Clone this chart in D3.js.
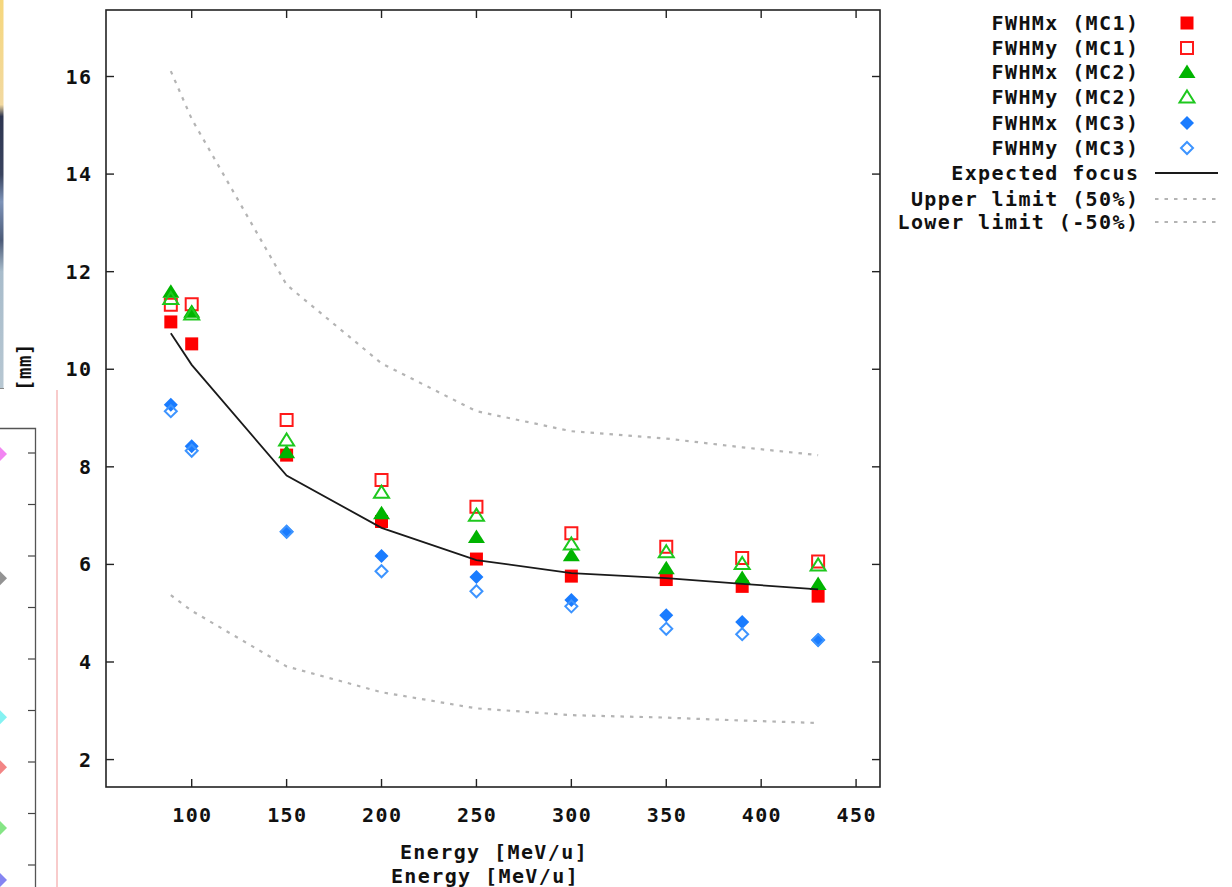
<!DOCTYPE html>
<html><head><meta charset="utf-8">
<script src="https://cdn.jsdelivr.net/npm/d3@7/dist/d3.min.js"></script>
<style>
html,body{margin:0;padding:0;background:#fff;overflow:hidden;}
text{font-family:"DejaVu Sans Mono","Liberation Mono",monospace;font-weight:bold;fill:#111;}
</style></head>
<body><svg id="c" width="1232" height="887"></svg>
<script>
// ---- data ----
const energy   = [89, 100, 150, 200, 250, 300, 350, 390, 430];
const fwhmxMC1 = [10.97, 10.52, 8.24, 6.88, 6.11, 5.76, 5.69, 5.55, 5.35];
const fwhmyMC1 = [11.32, 11.33, 8.96, 7.73, 7.18, 6.64, 6.36, 6.13, 6.06];
const fwhmxMC2 = [11.59, 11.18, 8.30, 7.05, 6.56, 6.19, 5.92, 5.72, 5.60];
const fwhmyMC2 = [11.45, 11.13, 8.55, 7.48, 7.01, 6.42, 6.26, 6.02, 5.99];
const fwhmxMC3 = [9.27, 8.42, 6.67, 6.17, 5.74, 5.27, 4.96, 4.82, 4.45];
const fwhmyMC3 = [9.14, 8.33, 6.67, 5.86, 5.45, 5.14, 4.68, 4.57, 4.45];
const expected = [10.74, 10.09, 7.82, 6.75, 6.09, 5.82, 5.72, 5.60, 5.49];
const upper    = [16.11, 15.13, 11.73, 10.12, 9.14, 8.73, 8.58, 8.40, 8.24];
const lower    = [5.37, 5.05, 3.91, 3.38, 3.05, 2.91, 2.86, 2.80, 2.75];
const xTicks = [100, 150, 200, 250, 300, 350, 400, 450];
const yTicks = [2, 4, 6, 8, 10, 12, 14, 16];
const seriesNames = ["FWHMx (MC1)", "FWHMy (MC1)", "FWHMx (MC2)", "FWHMy (MC2)", "FWHMx (MC3)", "FWHMy (MC3)"];
const lineNames = ["Expected focus", "Upper limit (50%)", "Lower limit (-50%)"];
const xTitle = "Energy [MeV/u]";
const yTitle = "[mm]";
// fragment of a neighbouring chart visible at the left edge
const fragTicks = [0, 1, 2, 3, 4, 5, 6, 7, 8];
const fragPoints = [0.02, 2.43, 5.13, 6.1, 7.28, 8.29];
const fragColors = ["#f070f0", "#808080", "#70f0f0", "#f07070", "#70e070", "#7070f0"];

const svg = d3.select("#c");
const L = 106, T = 10, R = 880, B = 787;
const x = d3.scaleLinear().domain([54.85, 462.6]).range([L, R]);
const y = d3.scaleLinear().domain([1.438, 17.363]).range([B, T]);

// ---- left-edge artefacts ----
const defs = svg.append("defs");
const gr = defs.append("linearGradient").attr("id","strip").attr("x1",0).attr("x2",0).attr("y1",0).attr("y2",1);
[["0%","#f6d77c"],["27%","#f2d9a0"],["30%","#2d3550"],["45%","#39435e"],["52%","#7d93b8"],["62%","#4c5b78"],["70%","#a8bccb"],["100%","#b7c7d2"]]
  .forEach(s=>gr.append("stop").attr("offset",s[0]).attr("stop-color",s[1]));
svg.append("rect").attr("x",0).attr("y",0).attr("width",3.5).attr("height",388).attr("fill","url(#strip)");
svg.append("line").attr("x1",0).attr("x2",4).attr("y1",388.5).attr("y2",388.5).attr("stroke","#888");

const yf = d3.scaleLinear().domain([0, 8]).range([453, 865]);
svg.append("path").attr("d","M-5,428.5H35.5V887").attr("fill","none").attr("stroke","#555").attr("stroke-width",1.3);
svg.selectAll(".ft").data(fragTicks).join("line")
  .attr("x1",28).attr("x2",35).attr("y1",d=>yf(d)).attr("y2",d=>yf(d)).attr("stroke","#444").attr("stroke-width",1.2);
svg.selectAll(".fp").data(fragPoints).join("path")
  .attr("transform",(d)=>`translate(0,${yf(d)})`)
  .attr("d","M0,-7L7,0L0,7L-7,0Z")
  .attr("fill",(d,i)=>fragColors[i]).attr("opacity",0.85);
svg.append("line").attr("x1",57).attr("x2",57).attr("y1",390).attr("y2",887).attr("stroke","#f4a8a8").attr("stroke-width",1.2);

// y title (partly visible)
svg.append("text").attr("transform","translate(31,367) rotate(-90)")
  .attr("text-anchor","middle").attr("font-size",19).attr("letter-spacing",0.5).text(yTitle);

// ---- frame + ticks ----
const g = svg.append("g");
g.append("rect").attr("x",L).attr("y",T).attr("width",R-L).attr("height",B-T)
  .attr("fill","none").attr("stroke","#222").attr("stroke-width",1.6);
const tk = 8;
g.selectAll(".xb").data(xTicks).join("line").attr("x1",d=>x(d)).attr("x2",d=>x(d)).attr("y1",B).attr("y2",B-tk).attr("stroke","#222").attr("stroke-width",1.4);
g.selectAll(".xt").data(xTicks).join("line").attr("x1",d=>x(d)).attr("x2",d=>x(d)).attr("y1",T).attr("y2",T+tk).attr("stroke","#222").attr("stroke-width",1.4);
g.selectAll(".yl").data(yTicks).join("line").attr("y1",d=>y(d)).attr("y2",d=>y(d)).attr("x1",L).attr("x2",L+tk).attr("stroke","#222").attr("stroke-width",1.4);
g.selectAll(".yr").data(yTicks).join("line").attr("y1",d=>y(d)).attr("y2",d=>y(d)).attr("x1",R).attr("x2",R-tk).attr("stroke","#222").attr("stroke-width",1.4);

const FS = 20, LS = 1.4;
g.selectAll(".xlab").data(xTicks).join("text")
  .attr("x",d=>x(d)+LS/2).attr("y",822).attr("text-anchor","middle")
  .attr("font-size",FS).attr("letter-spacing",LS).text(d=>d);
g.selectAll(".ylab").data(yTicks).join("text")
  .attr("x",91+LS).attr("y",d=>y(d)+7).attr("text-anchor","end")
  .attr("font-size",FS).attr("letter-spacing",LS).text(d=>d);

svg.append("text").attr("x",494).attr("y",859).attr("text-anchor","middle")
  .attr("font-size",FS).attr("letter-spacing",LS).text(xTitle);
svg.append("text").attr("x",485).attr("y",883).attr("text-anchor","middle")
  .attr("font-size",FS).attr("letter-spacing",LS).text(xTitle);

// ---- markers ----
const shapes = {
  square: "M-6.5,-6.5H6.5V6.5H-6.5Z",
  osquare: "M-6,-6H6V6H-6Z",
  tri: "M0,-7.5L8.5,6L-8.5,6Z",
  otri: "M0,-6.5L7.5,5.5L-7.5,5.5Z",
  dia: "M0,-7L7,0L0,7L-7,0Z",
  odia: "M0,-6L6,0L0,6L-6,0Z"
};
const series = [
  {v:fwhmxMC1, s:"square",  fill:"#ff0000", stroke:"none"},
  {v:fwhmyMC1, s:"osquare", fill:"none", stroke:"#ff1a1a"},
  {v:fwhmxMC2, s:"tri",     fill:"#00b400", stroke:"none"},
  {v:fwhmyMC2, s:"otri",    fill:"none", stroke:"#1ec81e"},
  {v:fwhmxMC3, s:"dia",     fill:"#1a7cff", stroke:"none"},
  {v:fwhmyMC3, s:"odia",    fill:"none", stroke:"#3d94ff"}
];
series.forEach(se=>{
  g.selectAll(null).data(energy.map((e,i)=>[e,se.v[i]])).join("path")
    .attr("transform",d=>`translate(${x(d[0])},${y(d[1])})`)
    .attr("d",shapes[se.s]).attr("fill",se.fill).attr("stroke",se.stroke).attr("stroke-width",2);
});

// ---- lines ----
const line = d3.line().x(d=>x(d[0])).y(d=>y(d[1]));
const lines = [
  {v:expected, stroke:"#1a1a1a", dash:null, w:1.8},
  {v:upper, stroke:"#b4b4b4", dash:"3.5,6", w:2.2},
  {v:lower, stroke:"#b4b4b4", dash:"3.5,6", w:2.2}
];
lines.forEach(l=>{
  g.append("path").datum(energy.map((e,i)=>[e,l.v[i]])).attr("d",line)
    .attr("fill","none").attr("stroke",l.stroke).attr("stroke-width",l.w).attr("stroke-dasharray",l.dash);
});

// ---- legend ----
const legY = [23, 48, 72, 97, 123, 148, 173, 199, 222];
const lg = svg.append("g");
const allNames = seriesNames.concat(lineNames);
lg.selectAll("text").data(allNames).join("text")
  .attr("x",1138+LS).attr("y",(d,i)=>legY[i]+7).attr("text-anchor","end")
  .attr("font-size",FS).attr("letter-spacing",LS).text(d=>d);
series.forEach((se,i)=>{
  lg.append("path").attr("transform",`translate(1187,${legY[i]})`)
    .attr("d",shapes[se.s]).attr("fill",se.fill).attr("stroke",se.stroke).attr("stroke-width",2);
});
lines.forEach((l,i)=>{
  lg.append("line").attr("x1",1155).attr("x2",1218).attr("y1",legY[6+i]).attr("y2",legY[6+i])
    .attr("stroke",l.stroke).attr("stroke-width",l.w).attr("stroke-dasharray",l.dash);
});
</script></body></html>
